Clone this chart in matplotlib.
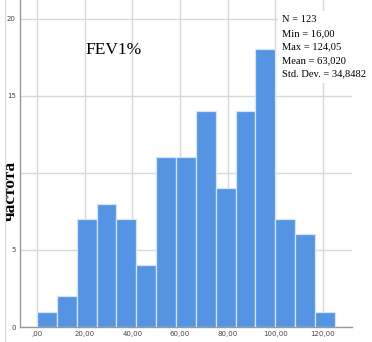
import numpy as np
import matplotlib.pyplot as plt
from matplotlib.lines import Line2D

# частоты по интервалам (гистограмма FEV1%)
counts = [1, 2, 7, 8, 7, 4, 11, 11, 14, 9, 14, 18, 7, 6, 1]
bin_start = 0.0
bin_width = 125.0 / 15
xticks = [0, 20, 40, 60, 80, 100, 120]
xlabels = [',00', '20,00', '40,00', '60,00', '80,00', '100,00', '120,00']
yticks = [0, 5, 10, 15, 20]
ylabels = ['0', '5', '', '15', '20']  # "10" hidden under axis title
stats = ['N = 123', 'Min = 16,00', 'Max = 124,05', 'Mean = 63,020', 'Std. Dev. = 34,8482']

serif = ['Liberation Serif', 'DejaVu Serif']

fig = plt.figure(figsize=(3.72, 3.42), dpi=100)
ax = fig.add_axes([20/372, 15/342, 332/372, 327/342])

lefts = bin_start + bin_width*np.arange(len(counts))
ax.bar(lefts, counts, width=bin_width, align='edge', color='#5494e2',
       edgecolor='#d6e4f6', linewidth=0.9, zorder=3)

ax.set_xlim(-7.1, 132.2)
ax.set_ylim(0, 21.2)
ax.set_xticks(xticks)
ax.set_xticklabels(xlabels)
ax.set_yticks(yticks)
ax.set_yticklabels(ylabels)
ax.tick_params(length=0, labelsize=5, colors='#444444', pad=3)
ax.grid(True, color='#d8d8d8', linewidth=1.0, zorder=0)
for s in ['top', 'right']:
    ax.spines[s].set_visible(False)
for s in ['left', 'bottom']:
    ax.spines[s].set_color('#9a9a9a')
    ax.spines[s].set_linewidth(1.0)

ax.set_ylabel('частота', family=serif, fontsize=12.5, fontweight='bold',
              va='center')
ax.yaxis.set_label_coords(-0.029, 0.416)

ax.text(0.198, 0.847, 'FEV1%', transform=ax.transAxes, family=serif,
        fontsize=12.5, va='center', ha='left')

ax.text(0.789, 0.953, '\n'.join(stats), transform=ax.transAxes, family=serif,
        fontsize=7.6, va='top', ha='left', linespacing=1.65, zorder=5,
        clip_on=False,
        bbox=dict(facecolor='white', edgecolor='none', pad=3))

fig.add_artist(Line2D([5/372, 5/372], [0, 1], color='#dddddd', linewidth=1))

plt.savefig('out.png', dpi=100)
